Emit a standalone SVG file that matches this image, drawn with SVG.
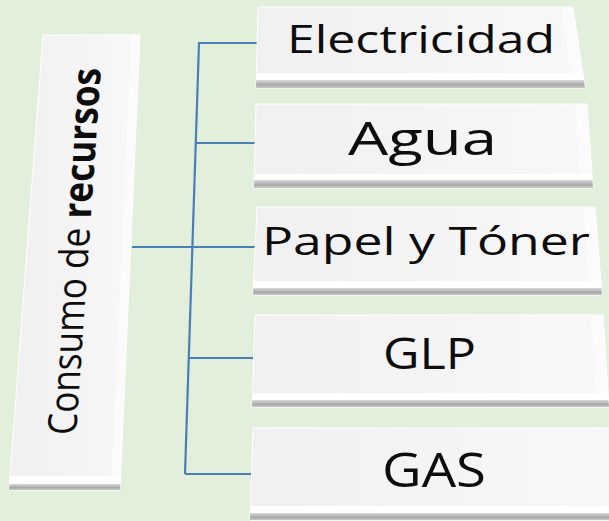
<svg xmlns="http://www.w3.org/2000/svg" width="609" height="521" viewBox="0 0 609 521">
  <style>
    .body { fill: url(#bodyGrad); stroke: #ffffff; stroke-width: 1; }
    .rstrip { fill: #fbfbfb; }
    .hl { fill: #ffffff; }
    .sh { fill: url(#shGrad); }
    .lbl { font-family: "Open Sans", "Liberation Sans", sans-serif; fill: #0d0d0d; }
    .conn { stroke: #4a7ebb; stroke-width: 2.2; fill: none; }
  </style>
  <defs>
    <linearGradient id="bodyGrad" x1="0" y1="0" x2="1" y2="0">
      <stop offset="0" stop-color="#f0f0f0"/>
      <stop offset="1" stop-color="#f8f8f8"/>
    </linearGradient>
    <linearGradient id="shGrad" x1="0" y1="0" x2="0" y2="1">
      <stop offset="0" stop-color="#d8d8d8"/>
      <stop offset="0.6" stop-color="#a9a9a9"/>
      <stop offset="1" stop-color="#c9c9c9"/>
    </linearGradient>
  </defs>
  <rect x="0" y="0" width="609" height="521" fill="#e2efda"/>

  <g id="connectors">
    <line class="conn" x1="199" y1="43" x2="185" y2="474"/>
    <line class="conn" x1="198" y1="43" x2="258" y2="43"/>
    <line class="conn" x1="196" y1="143" x2="256" y2="143"/>
    <line class="conn" x1="132" y1="247" x2="255" y2="247"/>
    <line class="conn" x1="189" y1="358" x2="253" y2="358"/>
    <line class="conn" x1="185" y1="474" x2="251" y2="474"/>
  </g>

  <g id="node-consumo">
    <polygon class="body" points="43,35 140,35 120,490 9,490"/>
    <polygon class="rstrip" points="131,35 140,35 120.6,476 111.6,476"/>
    <polygon class="hl" points="10.05,476 120.6,476 120.3,484 9.45,484"/>
    <polygon class="sh" points="9.45,484 120.3,484 120,490 9,490"/>
    <text class="lbl" font-size="40" textLength="367" lengthAdjust="spacingAndGlyphs" transform="matrix(0.068,-1,1,0,76,435)">Consumo de <tspan font-weight="bold">recursos</tspan></text>
  </g>

  <g id="node-electricidad">
    <polygon class="body" points="258,7 573,7 585,88 256,88"/>
    <polygon class="rstrip" points="561,7 573,7 582.8,73 570.8,73"/>
    <polygon class="hl" points="256.4,73 582.8,73 583.8,80 256.2,80"/>
    <polygon class="sh" points="256.2,80 583.8,80 585,88 256,88"/>
    <text class="lbl" x="287" y="53" font-size="39" textLength="268" lengthAdjust="spacingAndGlyphs">Electricidad</text>
  </g>

  <g id="node-agua">
    <polygon class="body" points="256,104 587,104 593,188 254,188"/>
    <polygon class="rstrip" points="575,104 587,104 592,174 580,174"/>
    <polygon class="hl" points="254.3,174 592,174 592.4,180 254.2,180"/>
    <polygon class="sh" points="254.2,180 592.4,180 593,188 254,188"/>
    <text class="lbl" x="348" y="155" font-size="46" textLength="149" lengthAdjust="spacingAndGlyphs">Agua</text>
  </g>

  <g id="node-papel">
    <polygon class="body" points="257,207 595,207 602,295 253,295"/>
    <polygon class="rstrip" points="583,207 595,207 600.9,281 588.9,281"/>
    <polygon class="hl" points="253.6,281 600.9,281 601.4,288 253.3,288"/>
    <polygon class="sh" points="253.3,288 601.4,288 602,295 253,295"/>
    <text class="lbl" x="262" y="255" font-size="39" textLength="328" lengthAdjust="spacingAndGlyphs">Papel y Tóner</text>
  </g>

  <g id="node-glp">
    <polygon class="body" points="255,315 603,315 609,407 252,407"/>
    <polygon class="rstrip" points="591,315 603,315 608.1,393 596.1,393"/>
    <polygon class="hl" points="252.5,393 608.1,393 608.5,400 252.2,400"/>
    <polygon class="sh" points="252.2,400 608.5,400 609,407 252,407"/>
    <text class="lbl" x="383" y="369" font-size="43" textLength="93" lengthAdjust="spacingAndGlyphs">GLP</text>
  </g>

  <g id="node-gas">
    <polygon class="body" points="253,428 614,428 620,520 250,520"/>
    <polygon class="hl" points="250.5,506 619,506 619.5,513 250.2,513"/>
    <polygon class="sh" points="250.2,513 619.5,513 620,520 250,520"/>
    <text class="lbl" x="382" y="487" font-size="47" textLength="104" lengthAdjust="spacingAndGlyphs">GAS</text>
  </g>
</svg>
